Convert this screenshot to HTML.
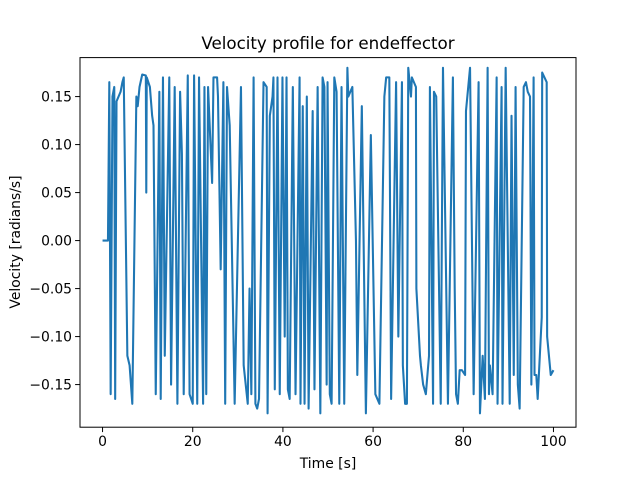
<!DOCTYPE html>
<html><head><meta charset="utf-8"><style>
body{margin:0;background:#fff}
svg text{font-family:"DejaVu Sans","Liberation Sans",sans-serif;fill:#000}
</style></head><body>
<svg id="chart" width="640" height="480" xmlns="http://www.w3.org/2000/svg">
<rect width="640" height="480" fill="#fff"/>
<text x="328" y="49" font-size="16.7" text-anchor="middle">Velocity profile for endeffector</text>
<g id="ticks"></g>
<path id="line" fill="none" stroke="#1f77b4" stroke-width="2.08" stroke-linejoin="round"/>
<rect x="80" y="57.6" width="496" height="369.6" fill="none" stroke="#000" stroke-width="1"/>
<text x="328" y="468" font-size="13.9" text-anchor="middle">Time [s]</text>
<text transform="translate(20,242) rotate(-90)" font-size="13.9" text-anchor="middle">Velocity [radians/s]</text>
</svg>
<script>
const times=[0,1.2,1.5,1.8,2.2,2.6,2.8,3.1,4.0,4.4,4.7,5.5,6.0,6.6,7.5,7.8,8.2,8.8,9.6,9.7,9.8,10.5,11.0,11.3,11.8,12.6,12.9,13.4,13.8,14.8,15.2,16.0,16.6,17.2,17.6,18.0,18.9,19.3,20.0,20.3,21.0,21.4,22.3,22.6,23.0,23.4,24.3,24.6,25.4,25.6,26.2,26.8,27.2,27.6,28.2,29.3,30.7,31.3,32.2,32.6,33.0,33.5,33.9,34.3,34.7,35.7,36.4,36.6,37.1,37.7,37.9,38.2,38.8,39.3,39.9,40.4,40.8,41.1,41.5,42.2,42.8,43.7,43.9,44.4,44.8,45.3,45.7,46.6,47.0,47.7,48.3,48.8,49.2,49.7,49.9,50.4,50.8,51.4,51.9,52.5,53.0,53.6,54.3,54.5,55.4,56.2,56.5,57.5,58.4,59.5,60.5,61.4,62.5,62.9,63.6,64.0,65.1,65.6,66.4,66.6,67.1,67.5,67.8,68.4,68.6,69.5,69.6,70.4,70.6,71.1,71.7,72.4,72.6,73.3,73.5,74.0,75.0,75.5,76.6,77.7,78.1,78.4,78.8,79.2,79.7,80.4,80.6,81.5,82.3,83.4,83.7,84.3,84.8,85.4,85.7,85.9,86.5,87.4,87.6,88.5,88.7,89.4,90.3,90.7,91.2,91.6,92.1,92.5,93.4,93.9,94.3,94.8,95.1,95.6,95.8,96.2,96.5,97.4,97.5,98.5,98.6,99.4,100];
const velocities=[0,0,0.165,-0.16,0.15,0.16,-0.165,0.145,0.155,0.165,0.17,-0.12,-0.13,-0.17,0.15,0.14,0.16,0.173,0.172,0.05,0.17,0.16,0.13,0.12,-0.16,0.155,-0.165,0.17,-0.12,0.17,-0.15,0.16,-0.17,0.155,0.09,-0.16,0.172,-0.16,-0.17,0.172,-0.17,0.17,-0.17,0.16,-0.16,0.16,0.06,0.17,0.17,0.15,-0.03,0.165,-0.17,0.16,0.12,-0.17,0.16,-0.13,-0.17,-0.05,-0.16,0.17,-0.17,-0.175,-0.165,0.165,0.16,-0.18,0.13,0.15,0.17,-0.155,0.17,-0.16,0.17,-0.1,0.17,-0.155,-0.165,0.16,-0.16,0.17,-0.17,0.14,-0.17,0.15,-0.175,0.135,-0.155,0.16,-0.18,0.17,0.16,-0.15,0.165,-0.16,-0.17,0.17,0.155,-0.17,0.16,-0.17,0.18,0.15,0.16,0.0,-0.14,0.14,-0.18,0.11,-0.16,-0.17,0.15,0.17,0.17,-0.165,0.165,-0.1,0.165,-0.13,-0.17,-0.17,0.18,0.15,0.17,0.16,-0.05,-0.12,-0.13,-0.15,-0.16,-0.12,0.16,-0.17,0.155,0.15,-0.17,0.18,-0.17,0.17,-0.05,-0.16,-0.17,-0.135,-0.135,-0.14,0.135,0.18,-0.16,0.165,-0.18,-0.12,-0.165,0.18,-0.16,-0.13,-0.16,0.17,-0.17,0.16,-0.17,0.18,-0.17,0.13,-0.14,0.16,-0.15,-0.175,0.16,0.165,0.155,0.15,-0.15,0.17,-0.14,-0.14,-0.165,-0.08,0.175,0.165,-0.1,-0.14,-0.135];
const xTicks=[0,20,40,60,80,100];
const yTicks=[-0.15,-0.10,-0.05,0.00,0.05,0.10,0.15];
const X0=80,X1=576,Y0=427.2,Y1=57.6,xmin=-5,xmax=105,ymin=-0.1944,ymax=0.1906;
const sx=v=>X0+(v-xmin)/(xmax-xmin)*(X1-X0);
const sy=v=>Y0-(v-ymin)/(ymax-ymin)*(Y0-Y1);
const NS="http://www.w3.org/2000/svg";
const g=document.getElementById('ticks');
xTicks.forEach(t=>{
  const l=document.createElementNS(NS,'line');
  
  
  l.setAttribute('x1',sx(t));l.setAttribute('x2',sx(t));l.setAttribute('y1',Y0);l.setAttribute('y2',Y0+4.9);l.setAttribute('stroke','#000');
  g.appendChild(l);
  const tx=document.createElementNS(NS,'text');
  
  
  tx.setAttribute('x',sx(t));tx.setAttribute('y',Y0+19);tx.setAttribute('font-size','13.9');tx.setAttribute('text-anchor','middle');
  tx.textContent=t;g.appendChild(tx);
});
yTicks.forEach(t=>{
  const l=document.createElementNS(NS,'line');
  
  
  l.setAttribute('x1',X0-4.9);l.setAttribute('x2',X0);l.setAttribute('y1',sy(t));l.setAttribute('y2',sy(t));l.setAttribute('stroke','#000');
  g.appendChild(l);
  const tx=document.createElementNS(NS,'text');
  
  
  tx.setAttribute('x',X0-8);tx.setAttribute('y',sy(t)+5);tx.setAttribute('font-size','13.9');tx.setAttribute('text-anchor','end');
  tx.textContent=(t<0?'\u2212':'')+Math.abs(t).toFixed(2);g.appendChild(tx);
});
document.getElementById('line').setAttribute('d',times.map((t,i)=>(i?'L':'M')+sx(t).toFixed(2)+','+sy(velocities[i]).toFixed(2)).join(''));
</script>
</body></html>
